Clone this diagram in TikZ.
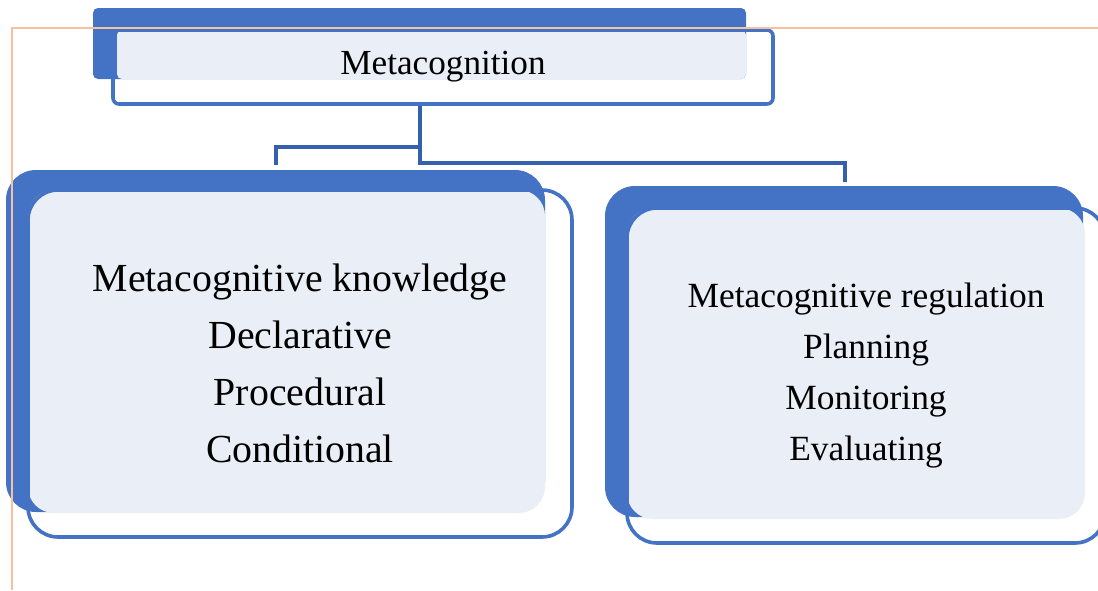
\documentclass[tikz,border=0pt]{standalone}
\usepackage{fontspec}
\setmainfont{Liberation Serif}
\usepackage{tikz}
\definecolor{accent}{HTML}{4472C4}
\definecolor{paleblue}{HTML}{EAEFF7}
\definecolor{linkblue}{HTML}{3560AE}
\definecolor{peach}{HTML}{F6C29E}

\begin{document}
\begin{tikzpicture}
    [
      x=0.5pt, y=-0.5pt,
      back/.style={fill=accent, inner sep=0pt, rounded corners=15pt},
      panel/.style={fill=paleblue, inner sep=0pt, rounded corners=13pt},
      frame/.style={draw=accent, line width=1.8pt, inner sep=0pt, align=center, rounded corners=15pt},
      link/.style={draw=linkblue, line width=1.6pt},
      guide/.style={draw=peach, line width=1.3pt},
    ]
    \useasboundingbox (0,0) rectangle (1098,590);

    % top box
    \node (meta-back) [back, rounded corners=2.5pt, minimum width=326.5pt, minimum height=35.5pt] at (419.5,43.5) {};
    \node (meta-panel) [panel, rounded corners=2.5pt, minimum width=314.5pt, minimum height=24.5pt] at (431.5,54.5) {};
    \node (meta) [frame, rounded corners=3pt, minimum width=330pt, minimum height=37pt,
      font=\fontsize{17.6}{21}\selectfont] at (443,67) {\raisebox{-1.5pt}{Metacognition}};

    % knowledge box
    \node (know-back) [back, minimum width=269.5pt, minimum height=171pt] at (275.5,341) {};
    \node (know-panel) [panel, minimum width=258.5pt, minimum height=161.5pt] at (286.5,351.5) {};
    \node (know) [frame, minimum width=272pt, minimum height=173.5pt,
      font=\fontsize{19.9}{28.5}\selectfont] at (300,363.5)
      {Metacognitive knowledge\\Declarative\\Procedural\\Conditional};

    % regulation box
    \node (reg-back) [back, minimum width=239pt, minimum height=165.5pt] at (844,351.5) {};
    \node (reg-panel) [panel, minimum width=229pt, minimum height=155.5pt] at (856,363.5) {};
    \node (reg) [frame, minimum width=239pt, minimum height=167.5pt,
      font=\fontsize{17.7}{25.5}\selectfont] at (866,375.5)
      {Metacognitive regulation\\Planning\\Monitoring\\Evaluating};

    \coordinate (hub) at (420,147);
    \coordinate (hub-low) at (420,163);
    \coordinate (know-stub) at (276,165);
    \coordinate (reg-stub) at (845,182);

    \draw [link] (hub |- meta.south) -- (hub) -| (know-stub);
    \draw [link] (hub) -- (hub-low) -| (reg-stub);

    % page guide
    \draw [guide] (12,590) -- (12,28) -- (1098,28);

\end{tikzpicture}
\end{document}
